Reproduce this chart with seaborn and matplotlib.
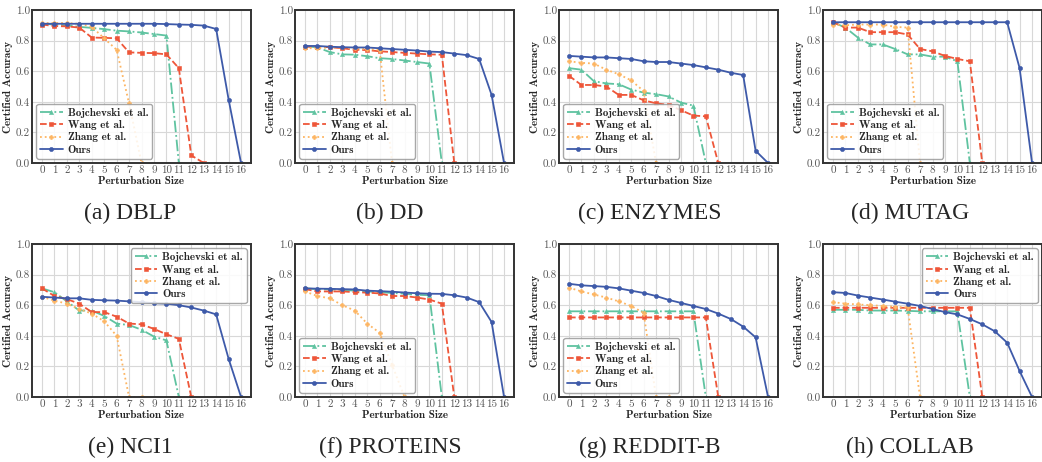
import numpy as np
import pandas as pd
import matplotlib
matplotlib.use("Agg")
import matplotlib.pyplot as plt
import seaborn as sns

# data
datasets = ["DBLP", "DD", "ENZYMES", "MUTAG", "NCI1", "PROTEINS", "REDDIT-B", "COLLAB"]
letters = ["a", "b", "c", "d", "e", "f", "g", "h"]

bojchevski = {
    "DBLP": [0.91, 0.905, 0.90, 0.89, 0.883, 0.875, 0.865, 0.86, 0.853, 0.843, 0.833, 0.0],
    "DD": [0.765, 0.755, 0.725, 0.71, 0.708, 0.698, 0.685, 0.68, 0.67, 0.66, 0.65, 0.0],
    "ENZYMES": [0.62, 0.61, 0.535, 0.52, 0.515, 0.48, 0.46, 0.45, 0.435, 0.395, 0.375, 0.0],
    "MUTAG": [0.92, 0.885, 0.82, 0.775, 0.775, 0.745, 0.71, 0.71, 0.695, 0.695, 0.665, 0.0],
    "NCI1": [0.71, 0.685, 0.625, 0.565, 0.565, 0.53, 0.48, 0.47, 0.44, 0.395, 0.37, 0.0],
    "PROTEINS": [0.71, 0.705, 0.703, 0.70, 0.695, 0.69, 0.685, 0.68, 0.675, 0.668, 0.665, 0.0],
    "REDDIT-B": [0.56, 0.56, 0.56, 0.56, 0.56, 0.56, 0.56, 0.56, 0.56, 0.56, 0.56, 0.0],
    "COLLAB": [0.57, 0.57, 0.57, 0.565, 0.565, 0.565, 0.563, 0.56, 0.56, 0.56, 0.56, 0.0],
}
wang = {
    "DBLP": [0.905, 0.895, 0.893, 0.885, 0.82, 0.818, 0.815, 0.723, 0.72, 0.718, 0.71, 0.62, 0.05, 0.0],
    "DD": [0.76, 0.76, 0.757, 0.75, 0.74, 0.738, 0.73, 0.725, 0.72, 0.715, 0.71, 0.708, 0.0],
    "ENZYMES": [0.57, 0.51, 0.51, 0.50, 0.445, 0.445, 0.41, 0.39, 0.38, 0.345, 0.31, 0.305, 0.0],
    "MUTAG": [0.92, 0.885, 0.885, 0.855, 0.855, 0.855, 0.84, 0.745, 0.73, 0.70, 0.68, 0.665, 0.0],
    "NCI1": [0.71, 0.66, 0.64, 0.61, 0.555, 0.555, 0.525, 0.48, 0.475, 0.445, 0.41, 0.38, 0.0],
    "PROTEINS": [0.705, 0.69, 0.69, 0.69, 0.685, 0.682, 0.677, 0.66, 0.66, 0.65, 0.637, 0.61, 0.0],
    "REDDIT-B": [0.52, 0.52, 0.52, 0.52, 0.52, 0.52, 0.52, 0.52, 0.52, 0.52, 0.52, 0.52, 0.0],
    "COLLAB": [0.583, 0.583, 0.583, 0.583, 0.583, 0.583, 0.583, 0.583, 0.583, 0.583, 0.583, 0.583, 0.0],
}
zhang = {
    "DBLP": [0.915, 0.915, 0.915, 0.91, 0.89, 0.815, 0.74, 0.39, 0.0],
    "DD": [0.75, 0.75, 0.755, 0.755, 0.75, 0.745, 0.74, 0.0],
    "ENZYMES": [0.665, 0.655, 0.65, 0.61, 0.58, 0.54, 0.47, 0.0],
    "MUTAG": [0.905, 0.90, 0.905, 0.905, 0.905, 0.89, 0.885, 0.0],
    "NCI1": [0.655, 0.63, 0.61, 0.575, 0.545, 0.495, 0.40, 0.0, 0.0],
    "PROTEINS": [0.69, 0.66, 0.645, 0.60, 0.565, 0.48, 0.42, 0.21, 0.0],
    "REDDIT-B": [0.715, 0.69, 0.67, 0.65, 0.625, 0.595, 0.55, 0.0, 0.0],
    "COLLAB": [0.62, 0.61, 0.605, 0.60, 0.595, 0.59, 0.585, 0.0],
}
ours = {
    "DBLP": [0.91, 0.91, 0.91, 0.91, 0.91, 0.91, 0.91, 0.91, 0.91, 0.91, 0.908, 0.905, 0.903, 0.898, 0.876, 0.415, 0.0],
    "DD": [0.765, 0.765, 0.76, 0.757, 0.755, 0.755, 0.75, 0.745, 0.74, 0.735, 0.728, 0.725, 0.715, 0.705, 0.68, 0.445, 0.0],
    "ENZYMES": [0.70, 0.695, 0.69, 0.69, 0.685, 0.68, 0.665, 0.66, 0.66, 0.65, 0.64, 0.625, 0.61, 0.59, 0.575, 0.08, 0.0],
    "MUTAG": [0.92, 0.92, 0.92, 0.92, 0.92, 0.92, 0.92, 0.92, 0.92, 0.92, 0.92, 0.92, 0.92, 0.92, 0.92, 0.62, 0.0],
    "NCI1": [0.655, 0.65, 0.645, 0.645, 0.635, 0.632, 0.63, 0.625, 0.62, 0.613, 0.61, 0.60, 0.585, 0.565, 0.54, 0.25, 0.0],
    "PROTEINS": [0.71, 0.708, 0.707, 0.705, 0.703, 0.695, 0.692, 0.688, 0.683, 0.678, 0.675, 0.674, 0.665, 0.65, 0.62, 0.49, 0.0],
    "REDDIT-B": [0.74, 0.73, 0.725, 0.72, 0.71, 0.695, 0.68, 0.66, 0.635, 0.615, 0.595, 0.575, 0.545, 0.51, 0.46, 0.39, 0.0],
    "COLLAB": [0.685, 0.68, 0.663, 0.65, 0.637, 0.623, 0.61, 0.595, 0.575, 0.555, 0.54, 0.51, 0.475, 0.43, 0.355, 0.17, 0.0],
}
legend_upper_right = ["NCI1", "COLLAB"]

methods = [
    ("Bojchevski et al.", bojchevski, "#5fc3a0", "^", "-."),
    ("Wang et al.", wang, "#ee5639", "s", "--"),
    ("Zhang et al.", zhang, "#fdb562", "P", ":"),
    ("Ours", ours, "#3e5aa9", "o", "-"),
]

sns.set_theme(style="whitegrid")
plt.rcParams["axes.unicode_minus"] = False

fig = plt.figure(figsize=(10.42, 4.62), dpi=100)
W, H = 1042, 462
ax_w, ax_h = 219, 153
lefts = [32, 295, 559, 823]
tops = [10, 244]

for i, name in enumerate(datasets):
    r, c = divmod(i, 4)
    ax = fig.add_axes([lefts[c] / W, 1 - (tops[r] + ax_h) / H, ax_w / W, ax_h / H])
    for label, d, color, marker, ls in methods:
        y = d[name]
        sns.lineplot(x=np.arange(len(y)), y=y, ax=ax, color=color, marker=marker,
                     linestyle=ls, linewidth=1.3, markersize=3, markeredgewidth=0.4,
                     markeredgecolor=color, label=label)
    ax.set_xlim(-0.8, 16.8)
    ax.set_ylim(0, 1)
    ax.set_xticks(range(17))
    ax.set_xticklabels([str(k) for k in range(17)], fontfamily="cmr10", fontsize=8, color="#555555")
    ax.set_yticks([0, 0.2, 0.4, 0.6, 0.8, 1.0])
    ax.set_yticklabels(["0.0", "0.2", "0.4", "0.6", "0.8", "1.0"], fontfamily="cmr10", fontsize=8, color="#555555")
    ax.tick_params(axis="both", pad=1.5, length=0)
    ax.set_xlabel("Perturbation Size", fontfamily="cmb10", fontsize=8, labelpad=1)
    ax.set_ylabel("Certified Accuracy", fontfamily="cmb10", fontsize=8, labelpad=2)
    ax.grid(True, color="#d8d8d8", linewidth=0.8)
    for s in ax.spines.values():
        s.set_color("#333333")
        s.set_linewidth(1.4)
    loc = "upper right" if name in legend_upper_right else "lower left"
    leg = ax.legend(loc=loc, prop={"family": "cmb10", "size": 8}, frameon=True,
                    fancybox=True, framealpha=0.85, borderpad=0.35, labelspacing=0.2,
                    handlelength=2.0, handletextpad=0.45, borderaxespad=0.4)
    leg.get_frame().set_edgecolor("#999999")
    leg.get_frame().set_linewidth(1.0)
    fig.text((130 + 260 * c) / W, 1 - (tops[r] + 203) / H, f"({letters[i]}) {name}",
             ha="center", va="center", fontfamily="Liberation Serif", fontsize=17)

fig.savefig("out.png", dpi=100)
